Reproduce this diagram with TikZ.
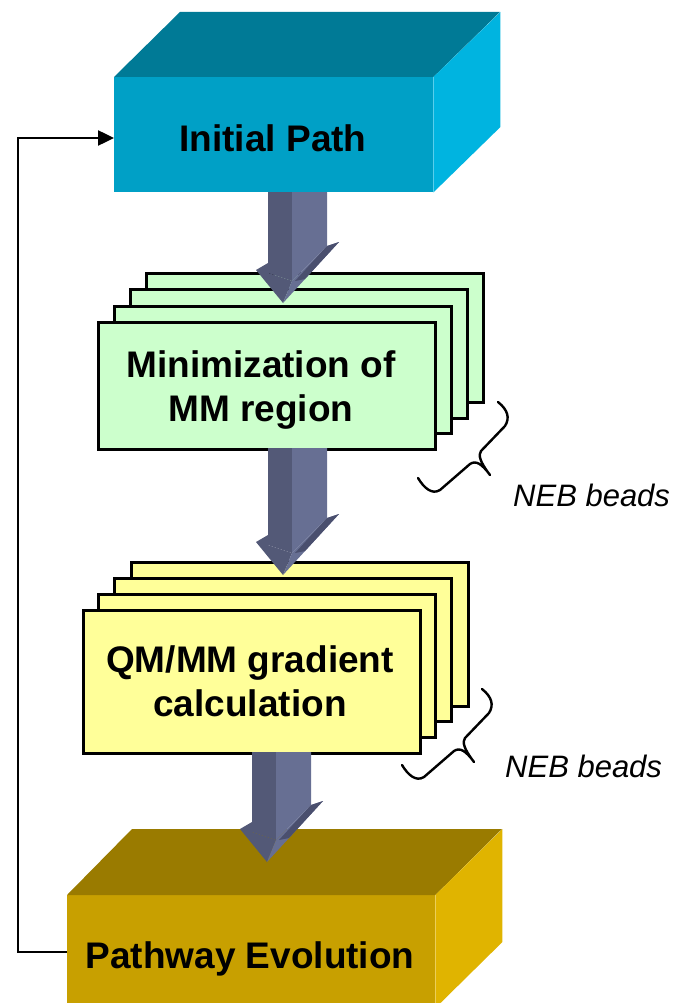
\documentclass[tikz,border=0pt]{standalone}
\usepackage{fontspec}
\setmainfont{Liberation Sans}
\usetikzlibrary{arrows.meta,calc}
\definecolor{cyanF}{HTML}{00A0C6}
\definecolor{cyanT}{HTML}{007A96}
\definecolor{cyanR}{HTML}{00B4E0}
\definecolor{goldF}{HTML}{C8A000}
\definecolor{goldT}{HTML}{9A7B00}
\definecolor{goldR}{HTML}{E0B400}
\definecolor{greenF}{HTML}{CCFFCC}
\definecolor{yellowF}{HTML}{FFFF99}
\definecolor{arrD}{HTML}{535977}
\definecolor{arrL}{HTML}{676F93}
\definecolor{arrB}{HTML}{4A4F6E}
\newcommand\blockarrow[3]{%
\begin{scope}[shift={(#1,#2)}]
\fill[arrD] (-27,-33) -- (-15,-40) -- (-15,-30) -- (9,-22) -- (0,0) -- cycle;
\fill[arrL] (9,-22) -- (44,-57) -- (56,-61) -- (0,0) -- cycle;
\fill[arrD] (-15,{#3-#2}) -- (9,{#3-#2}) -- (9,-22) -- (-15,-30) -- cycle;
\fill[arrL] (9,{#3-#2}) -- (44,{#3-#2}) -- (44,-57) -- (9,-22) -- cycle;
\fill[arrB] (44,-57) -- (56,-61) -- (22,-24) -- (12,-22) -- cycle;
\end{scope}}
\newcommand\nebbrace[2]{%
\draw[brc, shift={(#1,#2)}] (0,0) .. controls (10,8) and (12,16) .. (7,24) -- (-17,49)
  .. controls (-20,53) and (-18,60) .. (-8,73)
  .. controls (-16,62) and (-22,58) .. (-28,62) -- (-58,88)
  .. controls (-66,93) and (-74,86) .. (-80,76);}
\begin{document}
\begin{tikzpicture}[x=1pt,y=-1pt,
  card/.style={draw=black, line width=2.5pt, minimum width=337pt, inner sep=0pt, anchor=north west},
  face/.style={inner sep=0pt, anchor=north west},
  lbl/.style={font=\fontsize{37}{44}\selectfont\bfseries, align=center, inner sep=0pt},
  neb/.style={font=\fontsize{31}{36}\selectfont\itshape, anchor=base west, inner sep=0pt},
  brc/.style={line width=2.4pt, line cap=round, line join=round},
  fb/.style={line width=2.5pt, -{Triangle[length=16pt,width=15pt]}}]
\useasboundingbox (0,0) rectangle (675,1003);
\clip (0,0) rectangle (675,1003);
% Initial Path box
\node[face, fill=cyanF, minimum width=319pt, minimum height=115pt] (init) at (114,77) {};
\fill[cyanT] (init.north west) -- ++(66,-65) -- ++(320,0) -- (init.north east) -- cycle;
\fill[cyanR] (init.north east) -- ++(67,-65) -- ++(0,115) -- (init.south east) -- cycle;
\node[lbl, anchor=base] (tinit) at (273,152) {Initial Path};
% green stack
\node[card, fill=greenF, minimum height=129pt] (g4) at (145,272) {};
\node[card, fill=greenF, minimum height=129pt] (g3) at (129,288) {};
\node[card, fill=greenF, minimum height=127pt] (g2) at (113,305) {};
\node[card, fill=greenF, minimum height=127pt] (g1) at (97,321) {};
\node[lbl] (tmin) at (261,390) {Minimization of\\MM region};
% yellow stack
\node[card, fill=yellowF, minimum height=144pt] (y4) at (130,561) {};
\node[card, fill=yellowF, minimum height=143pt] (y3) at (113,577) {};
\node[card, fill=yellowF, minimum height=143pt] (y2) at (97,593) {};
\node[card, fill=yellowF, minimum height=143pt] (y1) at (82,609) {};
\node[lbl] (tqm) at (250,681) {QM/MM gradient\\calculation};
% Pathway Evolution box
\node[face, fill=goldF, minimum width=368pt, minimum height=120pt] (evo) at (67,895) {};
\fill[goldT] (evo.north west) -- ++(65,-66) -- ++(370,0) -- (evo.north east) -- cycle;
\fill[goldR] (evo.north east) -- ++(67,-66) -- ++(0,113) -- ++(-67,66) -- cycle;
\node[lbl, anchor=base] (tevo) at (250,968) {Pathway Evolution};
% block arrows
\blockarrow{283}{303}{192}
\blockarrow{283}{575}{448}
\blockarrow{267}{862}{752}
% braces and labels
\nebbrace{498}{402}
\nebbrace{482}{689}
\node[neb] (neb1) at (513,506) {NEB beads};
\node[neb] (neb2) at (505,777) {NEB beads};
% feedback loop
\coordinate (fbA) at (18,952);
\draw[fb] (evo.west |- fbA) -- (fbA) |- (init.west |- 0,138);
\end{tikzpicture}
\end{document}
